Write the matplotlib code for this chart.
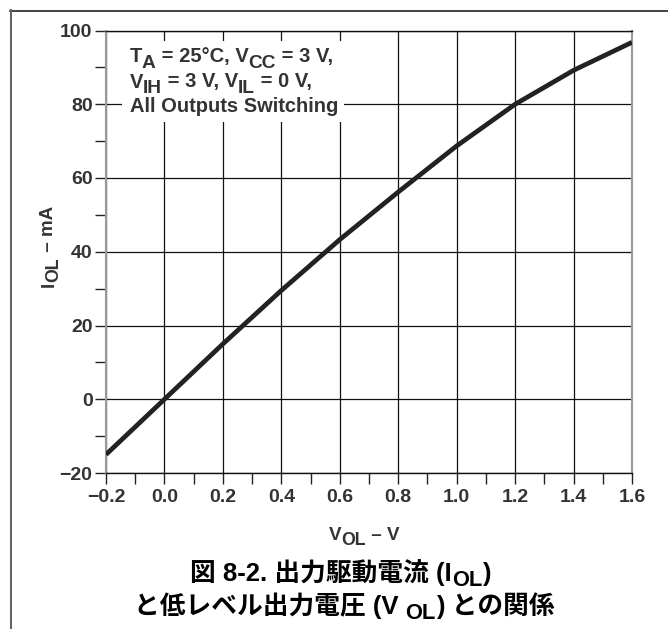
import matplotlib
matplotlib.use("Agg")
import matplotlib.pyplot as plt
from matplotlib.ticker import MultipleLocator
from matplotlib.lines import Line2D
from matplotlib.patches import Rectangle

# =========================
# DATA
# =========================
v_ol = [-0.2, 0.0, 0.2, 0.4, 0.6, 0.8, 1.0, 1.2, 1.4, 1.6]
i_ol = [-15.0, 0.0, 15.0, 29.5, 43.3, 56.2, 68.7, 80.0, 89.2, 96.8]

x_ticks = [-0.2, 0.0, 0.2, 0.4, 0.6, 0.8, 1.0, 1.2, 1.4, 1.6]
x_ticklabels = ["\u22120.2", "0.0", "0.2", "0.4", "0.6", "0.8", "1.0", "1.2", "1.4", "1.6"]
y_ticks = [-20, 0, 20, 40, 60, 80, 100]
y_ticklabels = ["\u221220", "0", "20", "40", "60", "80", "100"]

# rich text pieces: (text, is_subscript)
cond_lines = [
    [("T", 0), ("A", 1), (" = 25\u00b0C, V", 0), ("CC", 1), (" = 3 V,", 0)],
    [("V", 0), ("IH", 1), (" = 3 V, V", 0), ("IL", 1), (" = 0 V,", 0)],
    [("All Outputs Switching", 0)],
]
x_label = [("V", 0), ("OL", 1), (" \u2013 V", 0)]
y_label = [("I", 0), ("OL", 1), (" \u2013 mA", 0)]
caption1 = [("図 8-2. 出力駆動電流 (I", 0), ("OL", 1), (")", 0)]
caption2 = [("と低レベル出力電圧 (V ", 0), ("OL", 1), (") との関係", 0)]

# =========================
# HELPERS
# =========================
W, H = 668, 629
FONT = ["Liberation Sans", "Noto Sans CJK JP", "DejaVu Sans"]


def text_width(fig, s, size, renderer):
    t = fig.text(0, 0, s + "|", fontsize=size, family=FONT, weight="bold")
    w1 = t.get_window_extent(renderer).width
    t.set_text("|")
    w2 = t.get_window_extent(renderer).width
    t.remove()
    return w1 - w2


def rich_text(fig, x, y, pieces, size, ha="left", rotation=0, color="#333333",
              sub_scale=0.95, sub_drop=0.28):
    # x, y in pixels from the top-left corner, y is the baseline
    renderer = fig.canvas.get_renderer()
    px = size * fig.dpi / 72
    sizes = [size * sub_scale if sub else size for _, sub in pieces]
    widths = [text_width(fig, s, sz, renderer) for (s, _), sz in zip(pieces, sizes)]
    total = sum(widths)
    if rotation == 0:
        pos = x - total / 2 if ha == "center" else x
    else:
        pos = y + total / 2 if ha == "center" else y
    for (s, sub), sz, w in zip(pieces, sizes, widths):
        off = sub_drop * px if sub else 0
        if rotation == 0:
            fig.text(pos / W, 1 - (y + off) / H, s, fontsize=sz, family=FONT,
                     weight="bold", color=color, ha="left", va="baseline")
            pos += w
        else:
            fig.text((x + off) / W, 1 - pos / H, s, fontsize=sz, family=FONT,
                     weight="bold", color=color, ha="left", va="baseline",
                     rotation=90, rotation_mode="anchor")
            pos -= w


# =========================
# PLOT
# =========================
fig = plt.figure(figsize=(6.68, 6.29), dpi=100)
ax = fig.add_axes([106 / W, 1 - 473 / H, 526 / W, 442.5 / H])

ax.plot(v_ol, i_ol, color="#222222", lw=3.4, solid_capstyle="butt", zorder=5)

ax.set_xlim(-0.2, 1.6)
ax.set_ylim(-20, 100)
ax.set_xticks(x_ticks)
ax.set_xticklabels(x_ticklabels)
ax.set_yticks(y_ticks)
ax.set_yticklabels(y_ticklabels)
ax.xaxis.set_minor_locator(MultipleLocator(0.1))
ax.yaxis.set_minor_locator(MultipleLocator(10))
ax.tick_params(which="both", direction="out", length=7.7, width=1, colors="#222222",
               labelcolor="#333333")
ax.tick_params(axis="x", pad=4)
ax.tick_params(axis="y", pad=2)
for lab in ax.get_xticklabels() + ax.get_yticklabels():
    lab.set_fontsize(14)
    lab.set_fontweight("bold")
    lab.set_family(FONT)
ax.grid(which="major", color="#111111", lw=0.9)
ax.set_axisbelow(True)

for side in ["left", "right"]:
    ax.spines[side].set_color("#999999")
    ax.spines[side].set_linewidth(1.5)
for side in ["top", "bottom"]:
    ax.spines[side].set_color("#111111")
    ax.spines[side].set_linewidth(1)

# white box behind the test conditions
fig.add_artist(Rectangle((122 / W, 1 - 121.7 / H), 222 / W, 81 / H,
                         transform=fig.transFigure, fc="white", ec="none", zorder=1))

for line, base in zip(cond_lines, [62.3, 87.5, 112.3]):
    rich_text(fig, 129.5, base, line, 14.5)

rich_text(fig, 364, 540, x_label, 13.5, ha="center")
rich_text(fig, 53.3, 246.7, y_label, 13.5, ha="center", rotation=90)

rich_text(fig, 340.5, 581, caption1, 18.5, ha="center", color="black",
          sub_scale=0.85, sub_drop=0.18)
rich_text(fig, 344, 614, caption2, 18.5, ha="center", color="black",
          sub_scale=0.85, sub_drop=0.18)

# outer frame (top and left edges)
fig.add_artist(Line2D([10 / W, 1], [1 - 10.5 / H, 1 - 10.5 / H], color="#222222", lw=1.2))
fig.add_artist(Line2D([10.5 / W, 10.5 / W], [0, 1 - 10 / H], color="#666666", lw=1.5))

fig.savefig("out.png", dpi=100)
